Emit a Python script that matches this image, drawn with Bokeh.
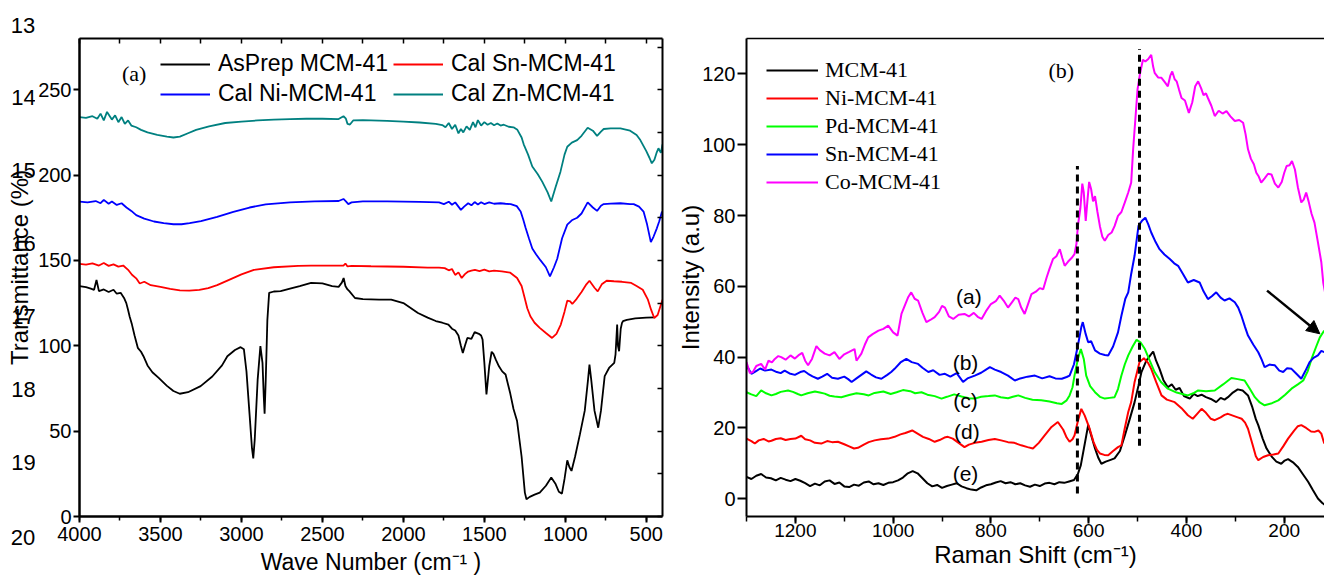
from bokeh.plotting import figure
from bokeh.models import (Range1d, LinearAxis, SingleIntervalTicker, FixedTicker, Legend, LegendItem,
                          Label, Arrow, NormalHead, CustomJSTickFormatter)
from bokeh.layouts import row
from bokeh.embed import file_html
from bokeh.resources import INLINE

# ---------------- FTIR data (panel a) ----------------
zn_wn = [4000, 3960, 3920, 3890, 3870, 3850, 3830, 3800, 3780, 3760, 3740, 3720, 3700, 3680, 3650, 3620, 3580,
         3520, 3460, 3420, 3380, 3330, 3280, 3200, 3100, 3000, 2900, 2800, 2700, 2600, 2500, 2400, 2370, 2355,
         2345, 2330, 2310, 2250, 2100, 2000, 1900, 1800, 1760, 1740, 1720, 1700, 1680, 1660, 1645, 1630, 1610,
         1590, 1570, 1555, 1540, 1520, 1500, 1480, 1460, 1440, 1420, 1400, 1380, 1350, 1320, 1296, 1270, 1257,
         1230, 1204, 1170, 1142, 1110, 1087, 1060, 1030, 1005, 988, 960, 927, 900, 862, 830, 804, 780, 763, 720,
         660, 600, 560, 537, 500, 480, 466, 450, 435, 425, 410, 400]
zn_t = [234, 233.5, 234.5, 233, 236, 232, 237, 232.5, 235, 231, 234, 230, 232, 229, 228, 226.5, 225,
        223.5, 222.5, 222, 222.5, 224.5, 226.5, 228.5, 230.5, 231.3, 232, 232.5, 232.8, 233, 233, 232.8, 234.5, 233,
        230, 229.6, 232, 232.2, 231.8, 231.3, 230.8, 230, 229.3, 228, 230.5, 227, 229.5, 224.4, 227, 225, 228.5,
        226.5, 231, 228, 232.2, 229, 231, 229.5, 230.5, 229.2, 230.2, 229, 229.5, 228.3, 228, 226.5, 222, 218,
        212, 205, 200.5, 196, 190, 184.5, 193, 202, 212, 216.6, 219, 220.5, 223, 227.7, 226, 223, 225.5, 227, 227.3,
        227.3, 226, 223.5, 220.5, 214, 210, 206.9, 209, 213.5, 215.7, 213, 218]

ni_wn = [4000, 3950, 3900, 3870, 3850, 3820, 3800, 3770, 3740, 3710, 3680, 3650, 3600, 3540, 3480, 3420, 3370,
         3320, 3250, 3150, 3050, 2950, 2850, 2700, 2550, 2400, 2370, 2355, 2340, 2320, 2250, 2100, 1900, 1780,
         1750, 1720, 1700, 1680, 1660, 1645, 1625, 1600, 1580, 1560, 1540, 1520, 1500, 1470, 1440, 1400, 1370,
         1337, 1300, 1276, 1260, 1245, 1225, 1204, 1180, 1153, 1120, 1095, 1070, 1050, 1020, 988, 960, 927, 900,
         862, 830, 804, 780, 763, 720, 660, 600, 578, 545, 517, 495, 472, 455, 435, 420, 403]
ni_t = [184.5, 184, 184.8, 183.5, 185.5, 183.2, 184.5, 182.5, 183.5, 181, 179, 176.5, 174.5, 172.8, 171.8, 171.2,
        171.2, 171.8, 173, 175.5, 178.5, 181, 182.8, 184, 184.6, 184.8, 186, 184.6, 183, 184, 184.6, 184.6, 184.3,
        184, 183, 184.4, 182.6, 184, 181.5, 179.6, 181.5, 183.5, 182.3, 184.2, 182.8, 184.1, 183, 184, 183.2, 183.5,
        183.2, 183, 181.8, 178.7, 174, 169, 163, 157, 153.5, 150, 146, 140.7, 146, 151, 163, 171, 173.5, 175,
        177.5, 184, 181, 179, 182, 183, 183.3, 183.5, 183, 183, 181.5, 178.6, 171, 160.7, 164, 168.8, 173, 178.6]

sn_wn = [4000, 3960, 3920, 3880, 3850, 3820, 3790, 3760, 3730, 3700, 3676, 3650, 3628, 3600, 3560, 3500, 3440,
         3380, 3322, 3260, 3205, 3150, 3080, 3000, 2923, 2800, 2650, 2570, 2450, 2370, 2358, 2345, 2320, 2200,
         2000, 1850, 1780, 1745, 1720, 1700, 1680, 1660, 1640, 1620, 1600, 1580, 1558, 1530, 1500, 1470, 1440,
         1392, 1340, 1298, 1270, 1251, 1235, 1216, 1190, 1158, 1120, 1082, 1055, 1028, 1005, 988, 970, 957, 930,
         900, 870, 851, 820, 800, 775, 745, 700, 650, 593, 560, 522, 490, 470, 451, 430, 400]
sn_t = [148, 147.5, 148.3, 147, 148.5, 146.8, 147.7, 146.4, 147, 144.5, 141.6, 139.5, 136.5, 137.5, 135.5, 134.5,
        133.3, 132.5, 132.3, 132.7, 133.8, 135.5, 138.5, 141.8, 144.5, 146, 146.8, 147, 147, 147, 148.2, 146.5,
        146.8, 146.6, 146.3, 145.8, 145.8, 145.5, 144.2, 145, 141.5, 143, 139.7, 142, 143.5, 144, 144.5, 143.8,
        144.6, 143.6, 144, 143.6, 142.8, 139.7, 135, 128, 122, 117.3, 113.5, 110.5, 107.5, 104.6, 107, 112.4, 120,
        126.4, 126, 124.5, 127.5, 131.5, 136, 138.1, 134, 131.9, 136, 138.1, 137.8, 137.5, 136.8, 135, 132.8, 127,
        121, 116.3, 118, 127]

as_wn = [4000, 3960, 3930, 3910, 3895, 3880, 3850, 3820, 3790, 3770, 3746, 3725, 3711, 3700, 3690, 3676, 3660,
         3640, 3620, 3605, 3580, 3550, 3511, 3460, 3420, 3381, 3330, 3252, 3180, 3120, 3087, 3040, 3005, 2985,
         2969, 2950, 2935, 2927, 2918, 2900, 2883, 2870, 2862, 2857, 2850, 2840, 2829, 2800, 2758, 2700, 2640,
         2570, 2500, 2440, 2400, 2380, 2369, 2358, 2345, 2334, 2299, 2250, 2150, 2075, 2000, 1910, 1850, 1800,
         1760, 1722, 1700, 1680, 1660, 1645, 1633, 1620, 1605, 1580, 1560, 1534, 1520, 1511, 1500, 1487, 1470,
         1455, 1444, 1430, 1410, 1390, 1369, 1340, 1320, 1298, 1270, 1250, 1240, 1220, 1190, 1158, 1120, 1087,
         1060, 1040, 1021, 1005, 988, 975, 962, 940, 910, 880, 860, 851, 840, 820, 797, 780, 757, 730, 698, 690,
         680, 675, 668, 658, 650, 644, 620, 568, 500, 450, 400]
as_t = [135, 134.3, 133.5, 132.8, 138.5, 132, 133, 131.5, 132.8, 130.5, 131, 128, 125, 121, 117, 112.4, 106,
        98.8, 96.5, 93.9, 88.5, 84.5, 81.2, 76.5, 73.5, 71.9, 72.8, 76.4, 82, 88.5, 93.9, 97.5, 99.2, 98,
        85, 60, 40, 34, 45, 80, 99.8, 90, 70, 60.2, 80, 115, 131, 131.8, 132, 133.5, 135,
        136.8, 136.5, 135, 134.5, 137, 139.7, 135, 133, 132, 128, 127.3, 127, 127, 125, 119.2, 116.5, 114.5,
        113.5, 112.4, 110, 109, 106, 100, 95.8, 100, 104.6, 104, 108, 107, 106, 103.6, 90, 71.5, 88,
        96.5, 95.3, 92, 88, 85, 83.2, 72, 63, 55.9, 35, 14, 10.1, 11.5, 12.8, 14, 18, 22.8,
        19, 14.5, 13.4, 22, 32.9, 29, 26.7, 35, 48.1, 62, 80, 89, 80, 62, 52, 62, 82.2, 87, 90, 95,
        112.4, 100, 96.8, 110, 113.4, 114.4, 115.2, 116, 116.5, 116.7]

ftir_names = ["AsPrep MCM-41", "Cal Ni-MCM-41", "Cal Sn-MCM-41", "Cal Zn-MCM-41"]
ftir_colors = ["#000000", "#0000ff", "#ff0000", "#008080"]
ftir_x = [as_wn, ni_wn, sn_wn, zn_wn]
ftir_y = [as_t, ni_t, sn_t, zn_t]

# ---------------- Raman data (panel b) ----------------
mcm_x = [1300, 1290, 1280, 1270, 1260, 1250, 1240, 1230, 1220, 1210, 1200, 1190, 1180, 1170, 1160, 1150, 1140, 1130,
         1120, 1110, 1100, 1090, 1080, 1070, 1060, 1050, 1040, 1030, 1020, 1010, 1000, 990, 980, 970, 960, 950, 940,
         930, 920, 910, 900, 890, 880, 870, 860, 850, 840, 830, 820, 810, 800, 790, 780, 770, 760, 750, 740, 730,
         720, 710, 700, 690, 680, 670, 660, 650, 640, 630, 622, 616, 608, 601, 594, 587, 580, 574, 565, 555, 547,
         536, 526, 516, 506, 498, 492, 482, 474, 468, 462, 455, 447, 438, 430, 422, 414, 405, 398, 393, 385, 377,
         369, 360, 350, 339, 330, 322, 315, 305, 295, 285, 274, 265, 258, 253, 244, 236, 226, 216, 206, 199, 192,
         182, 172, 162, 151, 141, 131, 122, 116]
mcm_y = [6.2, 5.6, 6.5, 7.0, 6.0, 5.8, 5.2, 5.9, 5.4, 5.0, 5.6, 5.1, 4.4, 3.6, 4.3, 3.8, 4.9, 5.2,
         4.2, 4.6, 3.5, 3.3, 4.0, 3.7, 4.6, 4.9, 4.1, 4.4, 3.9, 4.5, 4.7, 5.2, 6.0, 7.2, 7.8, 7.2, 5.8,
         4.4, 3.5, 3.9, 3.1, 3.6, 4.0, 4.4, 3.5, 3.0, 2.6, 2.4, 3.2, 3.8, 4.1, 4.6, 5.0, 4.4, 4.7, 4.1, 4.4, 3.8,
         3.4, 4.0, 3.6, 4.3, 4.5, 4.1, 4.7, 4.5, 4.9, 5.3, 7.0, 9.5, 15.5, 20.8, 17.5, 14.2, 11.5, 9.9, 10.5, 11.0, 11.4,
         13.5, 17.9, 22.5, 27.3, 32.0, 35.8, 39.0, 40.5, 41.6, 39.0, 36.7, 33.5, 31.5, 32.3, 30.8, 31.3, 29.0, 28.6, 28.3, 29.6, 29.0,
         29.4, 28.7, 28.2, 27.3, 28.5, 28.0, 28.7, 30.0, 30.9, 30.6, 29.2, 25.8, 22.5, 20.8, 17.0, 14.2, 12.0, 10.5, 9.9, 10.8, 11.2,
         10.3, 9.0, 7.0, 4.8, 2.4, 0.1, -1.2, -1.8]

ni_rx = [1300, 1290, 1283, 1275, 1265, 1255, 1249, 1240, 1230, 1220, 1210, 1200, 1188, 1180, 1170, 1160, 1147, 1135,
         1125, 1113, 1100, 1090, 1080, 1072, 1060, 1050, 1038, 1025, 1010, 997, 985, 975, 961, 950, 939, 927, 915,
         905, 895, 888, 878, 866, 854, 845, 833, 819, 805, 792, 779, 765, 752, 738, 725, 714, 702, 690, 676, 663,
         652, 645, 639, 633, 629, 622, 615, 608, 598, 590, 583, 577, 568, 560, 550, 540, 533, 526, 519, 513, 506,
         496, 487, 478, 472, 462, 451, 440, 424, 410, 397, 387, 378, 369, 360, 350, 342, 330, 322, 315, 305, 295,
         287, 280, 274, 265, 258, 253, 243, 233, 222, 212, 202, 192, 180, 172, 165, 155, 145, 138, 130, 124, 118]
ni_ry = [17.0, 16.3, 15.6, 16.5, 16.9, 16.2, 16.4, 16.9, 17.1, 16.6, 16.9, 17.0, 17.8, 16.8, 16.5, 15.8, 15.6, 16.3,
         16.0, 16.1, 15.4, 14.8, 14.2, 14.4, 15.3, 16.0, 16.5, 16.8, 17.0, 17.5, 18.2, 18.6, 19.3, 18.4, 17.5, 16.9, 16.1,
         16.6, 17.3, 17.5, 17.0, 15.8, 14.6, 15.3, 15.8, 16.1, 16.6, 16.9, 16.5, 16.0, 15.8, 15.1, 14.6, 14.2, 15.8, 17.9, 20.3, 21.7,
         19.5, 17.3, 16.1, 16.8, 17.9, 22.0, 25.4, 23.5, 19.8, 16.0, 13.8, 12.8, 12.4, 12.3, 13.5, 14.6, 15.1, 20.0, 24.5, 27.3, 33.0,
         38.6, 39.7, 38.3, 36.7, 33.0, 29.2, 28.0, 27.3, 25.6, 23.6, 22.6, 24.0, 25.4, 24.3, 22.6, 22.2, 23.0, 23.7, 24.0, 23.5, 23.0,
         22.6, 21.5, 19.8, 15.5, 12.0, 10.9, 11.8, 12.3, 12.5, 12.8, 14.8, 17.0, 19.2, 20.5, 20.8, 20.0, 19.0, 18.9, 19.3, 18.4, 15.6]

pd_rx = [1300, 1290, 1280, 1270, 1260, 1249, 1240, 1230, 1215, 1205, 1195, 1188, 1175, 1160, 1150, 1140, 1130, 1120,
         1106, 1090, 1075, 1060, 1050, 1038, 1020, 1005, 993, 980, 965, 955, 942, 930, 915, 901, 890, 875, 860,
         845, 833, 820, 805, 792, 780, 765, 755, 744, 730, 715, 697, 680, 665, 655, 645, 639, 633, 629, 622, 616,
         610, 605, 597, 587, 577, 567, 557, 547, 540, 533, 526, 519, 510, 502, 494, 485, 475, 465, 452, 438, 420,
         397, 386, 376, 360, 342, 325, 308, 295, 281, 270, 260, 250, 240, 225, 212, 198, 185, 172, 161, 152, 144,
         135, 127, 118]
pd_ry = [30.1, 29.5, 29.0, 30.6, 29.8, 29.2, 29.6, 30.2, 30.6, 30.2, 29.6, 29.2, 29.8, 30.3, 30.0, 29.7, 29.1, 28.9,
         28.7, 29.3, 29.8, 29.5, 29.2, 29.9, 30.3, 29.6, 30.1, 30.7, 30.4, 29.8, 30.1, 29.4, 29.0, 28.3, 28.8, 29.5, 28.9,
         28.4, 28.3, 28.8, 29.0, 29.2, 28.7, 28.4, 28.8, 29.2, 28.5, 28.0, 27.8, 27.5, 27.0, 26.8, 27.8, 29.2, 31.5, 34.8, 39.5, 42.3,
         39.5, 34.8, 31.8, 30.1, 28.8, 28.3, 28.5, 28.7, 31.0, 34.8, 38.0, 40.5, 43.0, 44.9, 44.2, 42.3, 39.0, 35.8, 33.0, 31.1, 30.0,
         29.2, 29.8, 30.6, 30.4, 30.6, 32.3, 34.1, 33.8, 33.4, 31.0, 28.7, 27.2, 26.4, 27.0, 27.8, 29.4, 31.1, 32.3, 33.4, 36.0, 39.5,
         42.8, 45.6, 47.5]

sn_rx = [1300, 1290, 1282, 1272, 1262, 1249, 1238, 1230, 1222, 1212, 1201, 1190, 1182, 1174, 1165, 1154, 1145, 1135,
         1125, 1113, 1100, 1092, 1085, 1075, 1065, 1055, 1045, 1035, 1024, 1012, 1004, 997, 985, 973, 962, 949, 940,
         928, 918, 905, 894, 883, 870, 857, 848, 833, 820, 810, 802, 792, 779, 765, 751, 740, 725, 710, 695, 680,
         668, 655, 645, 639, 630, 622, 615, 612, 606, 601, 595, 587, 577, 567, 560, 550, 540, 533, 525, 519, 513,
         506, 498, 491, 484, 478, 472, 463, 455, 445, 434, 425, 417, 407, 397, 385, 373, 365, 356, 348, 339, 330,
         322, 312, 301, 294, 287, 280, 274, 263, 253, 246, 240, 230, 219, 210, 202, 194, 185, 175, 165, 157, 148,
         140, 131, 124, 118]
sn_ry = [37.7, 35.3, 35.9, 36.8, 36.2, 36.5, 35.8, 35.5, 36.2, 35.4, 35.0, 35.8, 36.1, 35.3, 34.6, 33.9, 34.5, 35.3,
         34.2, 33.9, 34.5, 33.8, 33.0, 34.0, 35.0, 36.0, 35.1, 34.3, 33.9, 35.0, 35.8, 36.7, 38.5, 39.5, 38.6, 38.1, 37.0,
         35.8, 36.3, 35.0, 35.3, 34.5, 35.5, 33.0, 34.0, 34.8, 35.6, 36.5, 37.2, 36.5, 35.8, 34.8, 33.4, 34.0, 34.5, 34.8, 34.0, 34.6,
         34.0, 33.9, 34.4, 34.8, 38.0, 43.3, 48.5, 49.9, 46.5, 44.2, 44.5, 41.9, 41.0, 40.6, 40.5, 43.0, 47.0, 51.7, 56.5, 58.3, 63.5,
         68.7, 77.1, 78.5, 79.4, 77.5, 75.2, 72.5, 70.5, 69.0, 67.7, 66.5, 65.8, 63.5, 61.1, 61.8, 61.1, 58.6, 56.4, 57.2, 58.3, 56.8,
         56.0, 56.6, 55.5, 54.0, 51.5, 48.5, 46.1, 43.5, 41.4, 39.3, 37.2, 37.9, 37.7, 36.2, 35.8, 36.9, 36.7, 35.3, 33.9, 36.0, 38.6,
         39.8, 40.5, 41.8, 41.4]

co_rx = [1300, 1293, 1287, 1280, 1270, 1262, 1255, 1248, 1242, 1235, 1229, 1220, 1210, 1201, 1194, 1186, 1180, 1174,
         1166, 1157, 1150, 1140, 1130, 1120, 1110, 1100, 1090, 1079, 1075, 1065, 1058, 1051, 1042, 1030, 1020, 1010,
         1000, 991, 983, 975, 969, 963, 956, 949, 940, 932, 924, 915, 906, 900, 894, 886, 877, 866, 854, 845, 835,
         827, 819, 810, 800, 790, 782, 774, 765, 757, 750, 744, 738, 731, 724, 717, 708, 700, 693, 686, 680, 673,
         666, 659, 654, 649, 642, 635, 629, 625, 622, 617, 613, 610, 606, 602, 599, 595, 591, 587, 582, 577, 572,
         567, 560, 553, 547, 540, 533, 526, 519, 513, 509, 504, 500, 495, 489, 484, 478, 472, 468, 465, 458, 451,
         445, 438, 433, 429, 424, 420, 415, 410, 403, 395, 388, 382, 376, 370, 365, 360, 356, 349, 342, 334, 326,
         318, 310, 301, 292, 284, 279, 274, 268, 262, 257, 252, 247, 240, 233, 226, 219, 212, 205, 200, 195, 189,
         184, 178, 172, 165, 160, 155, 150, 144, 138, 131, 124, 120, 116]
co_ry = [38.6, 35.5, 35.8, 37.5, 38.1, 36.5, 39.0, 38.5, 39.5, 40.3, 40.0, 39.3, 40.5, 39.6, 40.5, 41.2, 39.0, 37.7,
         39.5, 43.1, 42.0, 41.0, 40.5, 41.4, 39.5, 40.8, 41.5, 42.3, 39.0, 41.0, 43.5, 45.6, 46.5, 47.5, 48.0, 48.9,
         47.0, 46.1, 52.2, 55.0, 57.0, 58.3, 56.5, 56.0, 52.5, 49.9, 50.5, 51.3, 52.8, 54.5, 54.0, 51.5, 50.8, 52.0, 52.2, 51.5, 52.5,
         51.4, 50.8, 53.0, 55.0, 55.8, 57.4, 56.0, 54.0, 55.5, 56.8, 56.4, 54.0, 52.2, 55.0, 57.8, 58.5, 59.5, 59.2, 62.5, 65.0, 67.7,
         68.5, 70.5, 68.0, 65.8, 67.0, 68.0, 69.1, 72.0, 77.1, 82.0, 89.0, 86.5, 78.5, 85.0, 89.5, 87.5, 84.0, 85.5, 81.0, 77.0, 74.0,
         72.9, 74.5, 75.2, 77.0, 79.9, 81.0, 83.7, 86.5, 89.3, 98.7, 108.0, 115.6, 120.0, 124.0, 123.5, 124.2, 125.4, 122.0, 120.3, 119.0, 118.9,
         117.8, 116.5, 119.5, 120.7, 118.5, 117.9, 115.5, 113.2, 112.5, 109.0, 112.0, 116.5, 117.9, 116.0, 114.0, 114.5, 113.2, 111.0, 108.1, 109.6, 108.8,
         109.5, 108.0, 106.7, 107.0, 106.2, 103.0, 98.7, 96.0, 94.5, 92.1, 91.0, 89.3, 90.5, 91.8, 91.6, 89.0, 87.9, 89.5, 92.0, 94.0, 94.2,
         95.4, 93.0, 88.0, 83.7, 84.5, 86.5, 84.0, 80.5, 78.0, 72.5, 66.8, 61.0, 58.0]

raman_names = ["MCM-41", "Ni-MCM-41", "Pd-MCM-41", "Sn-MCM-41", "Co-MCM-41"]
raman_colors = ["#000000", "#ff0000", "#00ff00", "#0000ff", "#ff00ff"]
raman_x = [mcm_x, ni_rx, pd_rx, sn_rx, co_rx]
raman_y = [mcm_y, ni_ry, pd_ry, sn_ry, co_ry]

curve_tags = ["(a)", "(b)", "(c)", "(d)", "(e)"]
curve_tag_x = [845, 852, 852, 849, 852]
curve_tag_y = [57, 38.6, 27.8, 18.9, 7.1]

dash_x = [623, 496]
dash_y0 = [1.5, 15]
dash_y1 = [94, 127]

arrow_start = (235, 58.8)
arrow_end = (127, 46.6)

# manuscript line numbers printed down the left margin (y in transmittance units of panel a);
# the first and last sit outside the frame and are drawn as margin tick labels
line_numbers = ["13", "14", "15", "16", "17", "18", "19", "20"]
line_number_y = [288.2, 245.4, 202.7, 159.9, 117.2, 74.4, 31.6, -11.1]
line_number_x = 23

SANS = "Liberation Sans"
SERIF = "Liberation Serif"
blank = CustomJSTickFormatter(code="return ''")


def style_axis(ax, tick_size="20px", width=2.5):
    ax.axis_line_width = width
    ax.axis_line_color = "black"
    ax.major_tick_line_width = 2
    ax.minor_tick_line_width = 1.5
    ax.major_label_text_font = SANS
    ax.major_label_text_font_size = tick_size
    ax.major_label_text_color = "black"
    ax.axis_label_text_font = SANS
    ax.axis_label_text_font_style = "normal"
    ax.axis_label_text_color = "black"


H = 580
TOP = 38
BOTTOM = 64

# ---------------- margin strip: line numbers + y title of panel (a) ----------------
pn = figure(width=35, height=H, x_range=Range1d(0, 35), y_range=Range1d(0, 280),
            output_backend="svg", toolbar_location=None, x_axis_type=None, y_axis_type=None,
            min_border_left=0, min_border_right=0, min_border_top=TOP, min_border_bottom=BOTTOM)
pn.outline_line_color = None
for t, yv in zip(line_numbers[1:-1], line_number_y[1:-1]):
    pn.add_layout(Label(x=line_number_x, y=yv, text=t, text_font=SANS, text_font_size="22px",
                        text_align="center", text_baseline="middle", text_color="black"))
for place, t, standoff in (("above", line_numbers[0], 6), ("below", line_numbers[-1], 13)):
    ax = LinearAxis(ticker=FixedTicker(ticks=[line_number_x]),
                    major_label_overrides={line_number_x: t})
    style_axis(ax, tick_size="22px")
    ax.axis_line_color = None
    ax.major_tick_line_color = None
    ax.minor_tick_line_color = None
    ax.major_tick_out = 0; ax.major_tick_in = 0
    ax.major_label_standoff = standoff
    pn.add_layout(ax, place)
pn.add_layout(Label(x=19, y=145.9, text="Transmittance (%)", angle=1.5708,
                    text_font=SANS, text_font_size="24px", text_align="center",
                    text_baseline="middle", text_color="black"))

# ---------------- Panel (a) ----------------
pa = figure(width=633, height=H, x_range=Range1d(4000, 400), y_range=Range1d(0, 280),
            output_backend="svg", toolbar_location=None, x_axis_type=None, y_axis_type=None,
            min_border_left=42, min_border_right=6, min_border_top=TOP, min_border_bottom=BOTTOM)
pa.outline_line_color = None

xa = LinearAxis(ticker=SingleIntervalTicker(interval=500, num_minor_ticks=2),
                axis_label="Wave Number (cm\u207b\u00b9 )")
style_axis(xa)
xa.major_tick_out = 6; xa.major_tick_in = 0; xa.minor_tick_out = 4; xa.minor_tick_in = 0
xa.major_label_standoff = 4
xa.axis_label_text_font_size = "23px"
xa.axis_label_standoff = 5
pa.add_layout(xa, "below")

ya = LinearAxis(ticker=SingleIntervalTicker(interval=50, num_minor_ticks=0))
style_axis(ya)
ya.major_tick_out = 6; ya.major_tick_in = 0; ya.minor_tick_out = 0; ya.minor_tick_in = 0
ya.major_label_standoff = 2
pa.add_layout(ya, "left")

ta = LinearAxis(ticker=SingleIntervalTicker(interval=250, num_minor_ticks=0), formatter=blank)
style_axis(ta, width=2)
ta.major_tick_out = 0; ta.major_tick_in = 5; ta.minor_tick_out = 0; ta.minor_tick_in = 0
ta.major_tick_line_width = 1.5
pa.add_layout(ta, "above")

ra = LinearAxis(ticker=SingleIntervalTicker(interval=25, num_minor_ticks=0), formatter=blank)
style_axis(ra, width=2)
ra.major_tick_out = 0; ra.major_tick_in = 5; ra.minor_tick_out = 0; ra.minor_tick_in = 0
ra.major_tick_line_width = 1.5
pa.add_layout(ra, "right")

items_a = []
for name, col, xs, ys in zip(ftir_names, ftir_colors, ftir_x, ftir_y):
    r = pa.line(xs, ys, line_color=col, line_width=1.8)
    items_a.append(LegendItem(label=name, renderers=[r]))
leg_a = Legend(items=items_a, location=(81, 409), ncols=2, orientation="vertical",
               glyph_width=50, glyph_height=20, label_standoff=8, label_width=172, spacing=3,
               padding=0, margin=0, border_line_color=None, background_fill_alpha=0,
               label_text_font=SANS, label_text_font_size="23px", label_text_color="black")
pa.add_layout(leg_a, "center")

pa.add_layout(Label(x=3662, y=259.5, text="(a)", text_font=SERIF, text_font_size="22px",
                    text_align="center", text_baseline="middle", text_color="black"))

# ---------------- Panel (b) ----------------
pb = figure(width=656, height=H, x_range=Range1d(1300, 117.5), y_range=Range1d(-5, 130),
            output_backend="svg", toolbar_location=None, x_axis_type=None, y_axis_type=None,
            min_border_left=78, min_border_right=0, min_border_top=TOP, min_border_bottom=BOTTOM)
pb.outline_line_color = None

xb = LinearAxis(ticker=SingleIntervalTicker(interval=200, num_minor_ticks=2),
                axis_label="Raman Shift (cm\u207b\u00b9)")
style_axis(xb, tick_size="19px", width=2)
xb.major_tick_out = 7; xb.major_tick_in = 0; xb.minor_tick_out = 5; xb.minor_tick_in = 0
xb.major_label_standoff = 0
xb.axis_label_text_font_size = "24px"
xb.axis_label_standoff = 1
pb.add_layout(xb, "below")

yb = LinearAxis(ticker=SingleIntervalTicker(interval=20, num_minor_ticks=0),
                axis_label="Intensity (a.u)")
style_axis(yb, width=2)
yb.major_tick_out = 9; yb.major_tick_in = 0; yb.minor_tick_out = 0; yb.minor_tick_in = 0
yb.major_label_standoff = 2
yb.axis_label_text_font_size = "24px"
yb.axis_label_standoff = -5
pb.add_layout(yb, "left")

tb = LinearAxis(ticker=FixedTicker(ticks=[]), formatter=blank)
style_axis(tb, width=1.5)
tb.major_tick_out = 0; tb.major_tick_in = 0; tb.minor_tick_out = 0; tb.minor_tick_in = 0
pb.add_layout(tb, "above")

items_b = []
for name, col, xs, ys in zip(raman_names, raman_colors, raman_x, raman_y):
    r = pb.line(xs, ys, line_color=col, line_width=2)
    items_b.append(LegendItem(label=name, renderers=[r]))
leg_b = Legend(items=items_b, location=(20, 321), orientation="vertical",
               glyph_width=52, glyph_height=20, label_standoff=7, spacing=2,
               padding=0, margin=0, border_line_color=None, background_fill_alpha=0,
               label_text_font=SERIF, label_text_font_size="22px", label_text_color="black")
pb.add_layout(leg_b, "center")

pb.segment(x0=dash_x, y0=dash_y0, x1=dash_x, y1=dash_y1, line_color="black",
           line_width=3, line_dash="7 5")

pb.add_layout(Arrow(end=NormalHead(size=13, fill_color="black", line_color="black"),
                    x_start=arrow_start[0], y_start=arrow_start[1],
                    x_end=arrow_end[0], y_end=arrow_end[1],
                    line_color="black", line_width=2.5))

for t, xv, yv in zip(curve_tags, curve_tag_x, curve_tag_y):
    pb.add_layout(Label(x=xv, y=yv, text=t, text_font=SANS, text_font_size="21px",
                        text_align="center", text_baseline="middle", text_color="black"))

pb.add_layout(Label(x=656, y=121, text="(b)", text_font=SERIF, text_font_size="22px",
                    text_align="center", text_baseline="middle", text_color="black"))

layout = row(pn, pa, pb)
open("out.html", "w").write(file_html(layout, INLINE))
